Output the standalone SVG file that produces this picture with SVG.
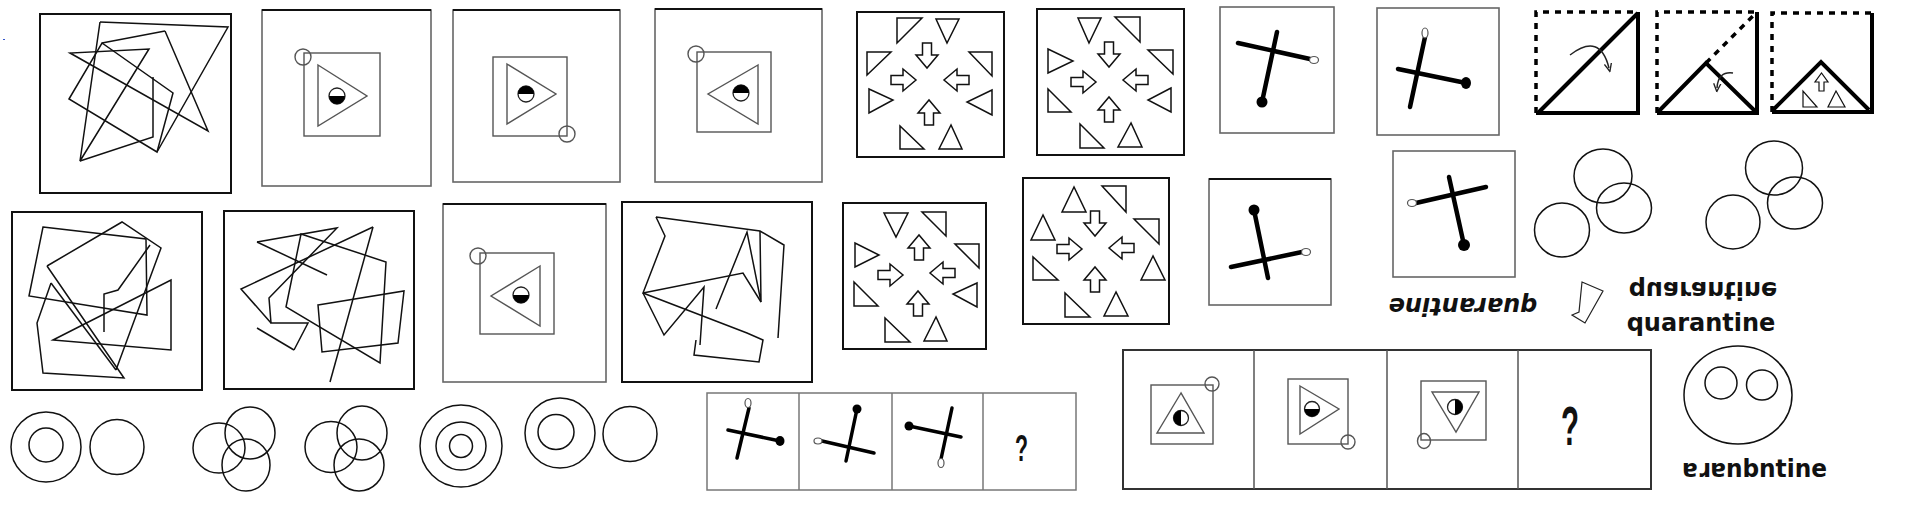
<svg xmlns="http://www.w3.org/2000/svg" xmlns:xlink="http://www.w3.org/1999/xlink" width="1908" height="506" viewBox="0 0 1908 506">
<style>
.frame{fill:none;stroke:#111;stroke-width:2}
.gframe{fill:none;stroke:#666;stroke-width:1.6}
.scr{fill:none;stroke:#111;stroke-width:1.5;stroke-linejoin:miter}
.thin{fill:none;stroke:#555;stroke-width:1.4}
.hc{fill:#fff;stroke:#222;stroke-width:1.3}
.blk{fill:#000}
.tri{fill:#fff;stroke:#111;stroke-width:1.5}
.bar{stroke:#000;stroke-width:4.5;stroke-linecap:round;fill:none}
.bar2{stroke:#000;stroke-width:3.5;stroke-linecap:round;fill:none}
.open{fill:#fff;stroke:#555;stroke-width:1.2}
.circ{fill:none;stroke:#111;stroke-width:1.5}
.solid{fill:none;stroke:#000;stroke-width:4}
.dash{fill:none;stroke:#000;stroke-width:3.5;stroke-dasharray:6 6}
.txt{font-family:"DejaVu Sans","Liberation Sans",sans-serif;font-weight:bold;font-size:24px;fill:#111}
.q{font-family:"Liberation Sans","DejaVu Sans",sans-serif;font-weight:bold;fill:#111}
</style>
<defs>
<path id="arr" d="M-4.5,0 H4.5 V12 H11 L0,25 L-11,12 H-4.5 Z" fill="#fff" stroke="#111" stroke-width="1.5" stroke-linejoin="miter"/>
<marker id="ah" viewBox="0 0 10 10" refX="5" refY="5" markerWidth="6" markerHeight="6" orient="auto"><path d="M0,1 L9,5 L0,9" fill="none" stroke="#222" stroke-width="1.5"/></marker>
</defs>
<rect width="1908" height="506" fill="#fff"/>
<rect x="3" y="39" width="2" height="1" fill="#3355cc"/>

<!-- Top row -->
<g id="t1">
<rect class="frame" x="40" y="14" width="191" height="179"/>
<path class="scr" d="M100,22 L228,27 L157,152"/>
<path class="scr" d="M69,99 L102,43 L173,93 L157,152 Z"/>
<path class="scr" d="M165,31 L208,131 L70,53 L149,49 L80,161 L100,22"/>
<path class="scr" d="M80,161 L153,137 L153,77"/>
<path class="scr" d="M165,31 L102,43"/>
</g>
<g id="t2">
<rect class="gframe" x="262" y="10" width="169" height="176"/>
<line x1="262" y1="10" x2="431" y2="10" stroke="#111" stroke-width="2"/>
<rect class="thin" x="304" y="53" width="76" height="83"/>
<circle class="thin" cx="303" cy="57" r="8"/>
<path class="thin" d="M318,65 L367,96 L318,126 Z"/>
<circle class="hc" cx="337" cy="96" r="8"/><path class="blk" d="M329,96 A8,8 0 0 0 345,96 Z"/>
</g>
<g id="t3">
<rect class="gframe" x="453" y="10" width="167" height="172"/>
<line x1="453" y1="10" x2="620" y2="10" stroke="#111" stroke-width="2"/>
<rect class="thin" x="493" y="57" width="74" height="79"/>
<circle class="thin" cx="567" cy="134" r="8"/>
<path class="thin" d="M507,64 L556,94 L507,124 Z"/>
<circle class="hc" cx="526" cy="94" r="8"/><path class="blk" d="M518,94 A8,8 0 0 1 534,94 Z"/>
</g>
<g id="t4">
<rect class="gframe" x="655" y="9" width="167" height="173"/>
<line x1="655" y1="9" x2="822" y2="9" stroke="#111" stroke-width="2"/>
<rect class="thin" x="697" y="52" width="74" height="80"/>
<circle class="thin" cx="696" cy="54" r="8"/>
<path class="thin" d="M758,65 L708,94 L758,124 Z"/>
<circle class="hc" cx="741" cy="93" r="8"/><path class="blk" d="M733,93 A8,8 0 0 1 749,93 Z"/>
</g>
<g id="t5">
<rect class="frame" x="857" y="12" width="147" height="145"/>
<path class="tri" d="M897,18 L922,18 L897,43 Z"/>
<path class="tri" d="M936,19 L959,19 L947,43 Z"/>
<path class="tri" d="M867,52 L891,52 L867,75 Z"/>
<path class="tri" d="M969,52 L992,52 L992,76 Z"/>
<path class="tri" d="M869,89 L893,100 L869,113 Z"/>
<path class="tri" d="M992,90 L967,102 L992,115 Z"/>
<path class="tri" d="M900,126 L900,149 L924,149 Z"/>
<path class="tri" d="M951,125 L939,149 L962,149 Z"/>
<use xlink:href="#arr" transform="translate(927,43)"/>
<use xlink:href="#arr" transform="translate(891,80) rotate(-90)"/>
<use xlink:href="#arr" transform="translate(969,80) rotate(90)"/>
<use xlink:href="#arr" transform="translate(929,125) rotate(180)"/>
</g>
<g id="t6">
<rect class="frame" x="1037" y="9" width="147" height="146"/>
<path class="tri" d="M1078,18 L1101,18 L1089,43 Z"/>
<path class="tri" d="M1115,17 L1140,17 L1140,42 Z"/>
<path class="tri" d="M1048,49 L1048,73 L1073,61 Z"/>
<path class="tri" d="M1148,50 L1173,50 L1173,74 Z"/>
<path class="tri" d="M1048,89 L1048,112 L1071,112 Z"/>
<path class="tri" d="M1171,88 L1148,100 L1171,112 Z"/>
<path class="tri" d="M1080,124 L1080,148 L1104,148 Z"/>
<path class="tri" d="M1131,123 L1118,147 L1142,147 Z"/>
<use xlink:href="#arr" transform="translate(1109,42)"/>
<use xlink:href="#arr" transform="translate(1071,82) rotate(-90)"/>
<use xlink:href="#arr" transform="translate(1148,80) rotate(90)"/>
<use xlink:href="#arr" transform="translate(1109,122) rotate(180)"/>
</g>
<g id="t7">
<rect class="gframe" x="1220" y="7" width="114" height="126"/>
<line class="bar" x1="1238" y1="43" x2="1310" y2="59"/>
<ellipse class="open" cx="1314" cy="60" rx="4.5" ry="3.5"/>
<line class="bar" x1="1277" y1="32" x2="1262" y2="102"/>
<circle class="blk" cx="1262" cy="102" r="5.5"/>
</g>
<g id="t8">
<rect class="gframe" x="1377" y="8" width="122" height="127"/>
<line class="bar" x1="1425" y1="37" x2="1410" y2="107"/>
<ellipse class="open" cx="1425" cy="33" rx="3" ry="5"/>
<line class="bar" x1="1398" y1="69" x2="1466" y2="83"/>
<ellipse class="blk" cx="1466" cy="83" rx="5" ry="6"/>
</g>
<g id="t9">
<path class="dash" d="M1536,113 V12 H1638"/>
<path class="solid" d="M1638,12 V113 H1536"/>
<line class="solid" x1="1538" y1="113" x2="1638" y2="13"/>
<path d="M1570,55 Q1600,32 1609,68" fill="none" stroke="#222" stroke-width="1.5" marker-end="url(#ah)"/>
</g>
<g id="t10">
<path class="dash" d="M1657,113 V12 H1757"/>
<path class="solid" d="M1757,12 V113 H1657"/>
<path class="solid" d="M1658,112 L1706,63 L1756,112"/>
<line class="dash" x1="1706" y1="63" x2="1756" y2="13"/>
<path d="M1733,73 Q1718,71 1717,88" fill="none" stroke="#222" stroke-width="1.5" marker-end="url(#ah)"/>
</g>
<g id="t11">
<path class="dash" d="M1772,112 V13 H1872"/>
<path class="solid" d="M1872,13 V112 H1772"/>
<path class="solid" d="M1773,110 L1821,62 L1869,110"/>
<path d="M1819,91 H1824 V82 H1828 L1821.5,73 L1815,82 H1819 Z" fill="#fff" stroke="#111" stroke-width="1.2"/>
<path class="tri" d="M1803,91 L1803,107 L1817,107 Z" style="stroke-width:1.2"/>
<path class="tri" d="M1836,91 L1828,107 L1845,107 Z" style="stroke-width:1.2"/>
</g>

<!-- Middle row -->
<g id="m1">
<rect class="frame" x="12" y="212" width="190" height="178"/>
<path class="scr" d="M43,227 L146,239 L147,315 L29,296 Z"/>
<path class="scr" d="M47,266 L122,222 L161,248 L116,370"/>
<path class="scr" d="M51,283 L37,323 L43,373 L124,378 L47,266"/>
<path class="scr" d="M53,340 L171,280 L171,350 Z"/>
<path class="scr" d="M150,245 L118,290 L104,294 L104,332"/>
<path class="scr" d="M51,283 L116,370"/>
</g>
<g id="m2">
<rect class="frame" x="224" y="211" width="190" height="178"/>
<path class="scr" d="M257,242 L337,228 L269,298 L271,323 L308,323 L294,350"/>
<path class="scr" d="M257,242 L327,275"/>
<path class="scr" d="M373,227 L241,289 L271,323"/>
<path class="scr" d="M373,227 L330,382"/>
<path class="scr" d="M301,234 L386,262 L380,363 L286,307 Z"/>
<path class="scr" d="M318,305 L404,291 L398,343 L322,352 Z"/>
<path class="scr" d="M257,328 L294,350"/>
</g>
<g id="m3">
<rect class="gframe" x="443" y="204" width="163" height="178"/>
<line x1="443" y1="204" x2="606" y2="204" stroke="#111" stroke-width="2"/>
<rect class="thin" x="480" y="253" width="74" height="81"/>
<circle class="thin" cx="478" cy="256" r="8"/>
<path class="thin" d="M540,266 L491,296 L540,326 Z"/>
<circle class="hc" cx="521" cy="295" r="8"/><path class="blk" d="M513,295 A8,8 0 0 0 529,295 Z"/>
</g>
<g id="m4">
<rect class="frame" x="622" y="202" width="190" height="180"/>
<path class="scr" d="M656,217 L760,231 L784,245 L778,338"/>
<path class="scr" d="M656,217 L665,236 L643,293 L747,333 L763,340 L759,362 L694,355 L696,340"/>
<path class="scr" d="M643,293 L743,273 L761,302"/>
<path class="scr" d="M643,293 L664,335 L704,287 L700,345"/>
<path class="scr" d="M716,309 L747,232 L761,302 L760,231"/>
</g>
<g id="m5">
<rect class="frame" x="843" y="203" width="143" height="146"/>
<path class="tri" d="M884,213 L908,213 L896,237 Z"/>
<path class="tri" d="M922,212 L946,212 L946,236 Z"/>
<path class="tri" d="M855,243 L855,267 L879,255 Z"/>
<path class="tri" d="M955,244 L979,244 L979,268 Z"/>
<path class="tri" d="M854,282 L854,306 L878,306 Z"/>
<path class="tri" d="M977,283 L953,294 L977,307 Z"/>
<path class="tri" d="M885,318 L885,342 L910,342 Z"/>
<path class="tri" d="M936,317 L924,341 L947,341 Z"/>
<use xlink:href="#arr" transform="translate(919,260) rotate(180)"/>
<use xlink:href="#arr" transform="translate(878,275) rotate(-90)"/>
<use xlink:href="#arr" transform="translate(955,273) rotate(90)"/>
<use xlink:href="#arr" transform="translate(918,316) rotate(180)"/>
</g>
<g id="m6">
<rect class="frame" x="1023" y="178" width="146" height="146"/>
<path class="tri" d="M1074,187 L1062,212 L1086,212 Z"/>
<path class="tri" d="M1102,186 L1126,186 L1126,212 Z"/>
<path class="tri" d="M1043,215 L1031,240 L1055,240 Z"/>
<path class="tri" d="M1134,219 L1159,219 L1159,244 Z"/>
<path class="tri" d="M1033,257 L1033,280 L1058,280 Z"/>
<path class="tri" d="M1153,256 L1141,280 L1165,280 Z"/>
<path class="tri" d="M1065,293 L1065,317 L1090,317 Z"/>
<path class="tri" d="M1116,292 L1104,316 L1128,316 Z"/>
<use xlink:href="#arr" transform="translate(1095,211)"/>
<use xlink:href="#arr" transform="translate(1057,249) rotate(-90)"/>
<use xlink:href="#arr" transform="translate(1134,248) rotate(90)"/>
<use xlink:href="#arr" transform="translate(1095,292) rotate(180)"/>
</g>
<g id="m7">
<rect class="gframe" x="1209" y="179" width="122" height="126"/>
<line x1="1209" y1="179" x2="1331" y2="179" stroke="#111" stroke-width="2"/>
<line class="bar" x1="1254" y1="210" x2="1268" y2="278"/>
<circle class="blk" cx="1254" cy="210" r="5.5"/>
<line class="bar" x1="1231" y1="267" x2="1302" y2="252"/>
<ellipse class="open" cx="1306" cy="252" rx="4.5" ry="3.5"/>
</g>
<g id="m8">
<rect class="gframe" x="1393" y="151" width="122" height="126"/>
<line class="bar" x1="1449" y1="177" x2="1464" y2="245"/>
<circle class="blk" cx="1464" cy="245" r="6"/>
<line class="bar" x1="1416" y1="203" x2="1486" y2="187"/>
<ellipse class="open" cx="1412" cy="203" rx="4.5" ry="3.5"/>
<text class="txt" x="1463" y="306" text-anchor="middle" font-style="italic" transform="rotate(180 1463 302)">quarantine</text>
</g>
<g id="m9">
<ellipse class="circ" cx="1603" cy="176" rx="29" ry="27"/>
<ellipse class="circ" cx="1624" cy="208" rx="27.5" ry="25"/>
<ellipse class="circ" cx="1562" cy="230" rx="27.5" ry="27"/>
</g>
<g id="m10">
<ellipse class="circ" cx="1774" cy="168" rx="28.5" ry="27"/>
<ellipse class="circ" cx="1795" cy="203" rx="27.5" ry="26"/>
<ellipse class="circ" cx="1733" cy="222" rx="27" ry="27"/>
</g>
<g id="m11">
<path d="M1582,282 L1603,291 L1585,323 L1572,315 L1579,312 Z" fill="none" stroke="#222" stroke-width="1.2"/>
</g>
<g id="m12">
<text class="txt" x="1703" y="294" text-anchor="middle" transform="translate(0,576) scale(1,-1)">quarantine</text>
<text class="txt" x="1701" y="331" text-anchor="middle">quarantine</text>
</g>

<!-- Bottom row -->
<g id="b1">
<ellipse class="circ" cx="46" cy="447" rx="35" ry="35"/>
<ellipse class="circ" cx="46" cy="445" rx="17" ry="17"/>
<ellipse class="circ" cx="117" cy="447" rx="27" ry="27.5"/>
</g>
<g id="b2">
<ellipse class="circ" cx="250" cy="433" rx="25" ry="26"/>
<ellipse class="circ" cx="219" cy="448" rx="26" ry="25"/>
<ellipse class="circ" cx="246" cy="465" rx="24" ry="26"/>
</g>
<g id="b3">
<ellipse class="circ" cx="362" cy="433" rx="25" ry="27"/>
<ellipse class="circ" cx="331" cy="447" rx="26" ry="25.5"/>
<ellipse class="circ" cx="359" cy="465" rx="25" ry="26"/>
</g>
<g id="b4">
<ellipse class="circ" cx="461" cy="446" rx="41" ry="41"/>
<ellipse class="circ" cx="461" cy="446" rx="25" ry="24"/>
<ellipse class="circ" cx="461" cy="446" rx="11.5" ry="11.5"/>
</g>
<g id="b5">
<ellipse class="circ" cx="560" cy="433" rx="35" ry="35"/>
<ellipse class="circ" cx="556" cy="432" rx="18" ry="17.5"/>
<ellipse class="circ" cx="630" cy="434" rx="27" ry="27.5"/>
</g>
<g id="b6">
<rect x="707" y="393" width="369" height="97" fill="none" stroke="#777" stroke-width="1.5"/>
<line x1="799" y1="393" x2="799" y2="490" stroke="#777" stroke-width="1.5"/>
<line x1="892" y1="393" x2="892" y2="490" stroke="#777" stroke-width="1.5"/>
<line x1="983" y1="393" x2="983" y2="490" stroke="#777" stroke-width="1.5"/>
<line class="bar2" x1="749" y1="408" x2="737" y2="458"/>
<ellipse class="open" cx="748" cy="403" rx="3" ry="4.5"/>
<line class="bar2" x1="728" y1="430" x2="780" y2="441"/>
<ellipse class="blk" cx="780" cy="441" rx="4.5" ry="5"/>
<line class="bar2" x1="857" y1="409" x2="846" y2="461"/>
<circle class="blk" cx="857" cy="409" r="4.5"/>
<line class="bar2" x1="822" y1="441" x2="874" y2="453"/>
<ellipse class="open" cx="818" cy="441" rx="4" ry="3"/>
<line class="bar2" x1="909" y1="426" x2="961" y2="437"/>
<circle class="blk" cx="909" cy="426" r="4.5"/>
<line class="bar2" x1="952" y1="408" x2="941" y2="459"/>
<ellipse class="open" cx="941" cy="463" rx="3" ry="4.5"/>
<text class="q" x="1015" y="461" font-size="37" textLength="13" lengthAdjust="spacingAndGlyphs">?</text>
</g>
<g id="b7">
<rect x="1123" y="350" width="528" height="139" fill="none" stroke="#333" stroke-width="2"/>
<line x1="1254" y1="350" x2="1254" y2="489" stroke="#555" stroke-width="1.5"/>
<line x1="1387" y1="350" x2="1387" y2="489" stroke="#555" stroke-width="1.5"/>
<line x1="1518" y1="350" x2="1518" y2="489" stroke="#555" stroke-width="1.5"/>
<rect class="thin" x="1151" y="385" width="62" height="59"/>
<circle class="thin" cx="1212" cy="384" r="7"/>
<path class="thin" d="M1181,393 L1157,433 L1204,433 Z"/>
<circle class="hc" cx="1181" cy="418" r="7.5"/><path class="blk" d="M1181,410.5 A7.5,7.5 0 0 0 1181,425.5 Z"/>
<rect class="thin" x="1288" y="379" width="60" height="65"/>
<circle class="thin" cx="1348" cy="442" r="7"/>
<path class="thin" d="M1300,386 L1339,409 L1300,434 Z"/>
<circle class="hc" cx="1312" cy="409" r="7.5"/><path class="blk" d="M1304.5,409 A7.5,7.5 0 0 0 1319.5,409 Z"/>
<rect class="thin" x="1421" y="381" width="65" height="59"/>
<ellipse class="thin" cx="1424" cy="441" rx="6.5" ry="7.5"/>
<path class="thin" d="M1432,392 L1479,392 L1456,432 Z"/>
<circle class="hc" cx="1455" cy="407" r="7.5"/><path class="blk" d="M1455,399.5 A7.5,7.5 0 0 1 1455,414.5 Z"/>
<text class="q" x="1561" y="445" font-size="56" textLength="18" lengthAdjust="spacingAndGlyphs">?</text>
</g>
<g id="b8">
<ellipse class="circ" cx="1738" cy="395" rx="54" ry="49"/>
<ellipse class="circ" cx="1721" cy="383" rx="16" ry="16"/>
<ellipse class="circ" cx="1762" cy="385" rx="15.5" ry="15"/>
<text class="txt" x="1682" y="477" font-size="22" textLength="145" lengthAdjust="spacingAndGlyphs">ɐɹɐnbntine</text>
</g>
</svg>
